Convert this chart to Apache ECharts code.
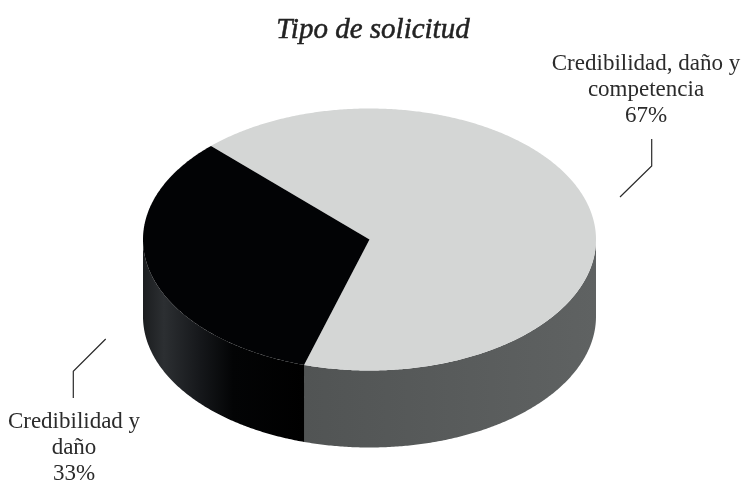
<!DOCTYPE html>
<html>
<head>
<meta charset="utf-8">
<title>Tipo de solicitud</title>
<style>
  html, body { margin: 0; padding: 0; background: #fff; }
  #chart { width: 742px; height: 481px; }
</style>
<script src="https://cdn.jsdelivr.net/npm/echarts@6/dist/echarts.min.js"></script>
</head>
<body>
<div id="chart"></div>
<script>
// Request types and their share of the total
const categories = ['Credibilidad, daño y\ncompetencia', 'Credibilidad y\ndaño'];
const shares = [67, 33];

// Drawing styles for each slice
const topColors = ['#d4d6d5', '#020305'];
const wallStops = [
  [[0, '#515454'], [1, '#5f6262']],
  [[0, '#1b1d1f'], [0.13, '#2c2f32'], [0.36, '#15171a'], [0.56, '#030405'], [1, '#000000']]
];
const labelAnchors = [[646, 51], [74, 409]];
const leaderPaths = [
  [[651.7, 139], [651.7, 166], [620, 197]],
  [[105.7, 339], [73.3, 371.3], [73.3, 398]]
];

// Disc geometry, in pixels; angles run clockwise from the +x axis
const disc = { cx: 369.5, cy: 239.5, rx: 226.5, ry: 131, depth: 77, startDeg: 225.6 };
const serif = '"Liberation Serif", serif';
const total = shares.reduce((a, b) => a + b, 0);

function rimPoint(deg, dy) {
  const a = deg * Math.PI / 180;
  return [disc.cx + disc.rx * Math.cos(a), disc.cy + disc.ry * Math.sin(a) + dy];
}

function arc(from, to, dy) {
  const pts = [];
  const n = Math.max(2, Math.ceil(Math.abs(to - from) * 2));
  for (let i = 0; i <= n; i++) pts.push(rimPoint(from + (to - from) * i / n, dy));
  return pts;
}

// Only the part of a slice facing the viewer (0..180 degrees) shows a wall
function frontRange(from, to) {
  for (const k of [0, 360, 720]) {
    const lo = Math.max(from, k), hi = Math.min(to, k + 180);
    if (hi > lo) return [lo, hi];
  }
  return null;
}

function renderSlice(params, api) {
  const i = params.dataIndex;
  const before = shares.slice(0, i).reduce((a, b) => a + b, 0);
  const from = disc.startDeg + before / total * 360;
  const to = from + api.value(0) / total * 360;
  const children = [];

  const front = frontRange(from, to);
  if (front) {
    const upper = arc(front[0], front[1], 0);
    const lower = arc(front[1], front[0], disc.depth);
    children.push({
      type: 'polygon',
      shape: { points: upper.concat(lower) },
      style: {
        fill: new echarts.graphic.LinearGradient(0, 0, 1, 0,
          wallStops[i].map(s => ({ offset: s[0], color: s[1] })))
      }
    });
  }

  children.push({
    type: 'polygon',
    shape: { points: [[disc.cx, disc.cy]].concat(arc(from, to, 0)) },
    style: { fill: topColors[i] }
  });

  children.push({
    type: 'polyline',
    shape: { points: leaderPaths[i] },
    style: { stroke: '#2a2a2a', lineWidth: 1.2, fill: null }
  });

  children.push({
    type: 'text',
    style: {
      text: categories[i] + '\n' + api.value(0) + '%',
      x: labelAnchors[i][0],
      y: labelAnchors[i][1],
      align: 'center',
      verticalAlign: 'top',
      font: '23px ' + serif,
      lineHeight: 26,
      fill: '#2b2b2b'
    }
  });

  return { type: 'group', children: children };
}

const chart = echarts.init(document.getElementById('chart'), null, { renderer: 'canvas' });
chart.setOption({
  animation: false,
  backgroundColor: '#ffffff',
  title: {
    text: 'Tipo de solicitud',
    left: 368,
    top: 11,
    textAlign: 'center',
    textStyle: {
      fontFamily: serif,
      fontStyle: 'italic',
      fontWeight: 'normal',
      fontSize: 29,
      color: '#222222',
      textBorderColor: '#222222',
      textBorderWidth: 0.5
    }
  },
  series: [{
    type: 'custom',
    coordinateSystem: 'none',
    silent: true,
    data: shares.map(v => [v]),
    renderItem: renderSlice
  }]
});
</script>
</body>
</html>
